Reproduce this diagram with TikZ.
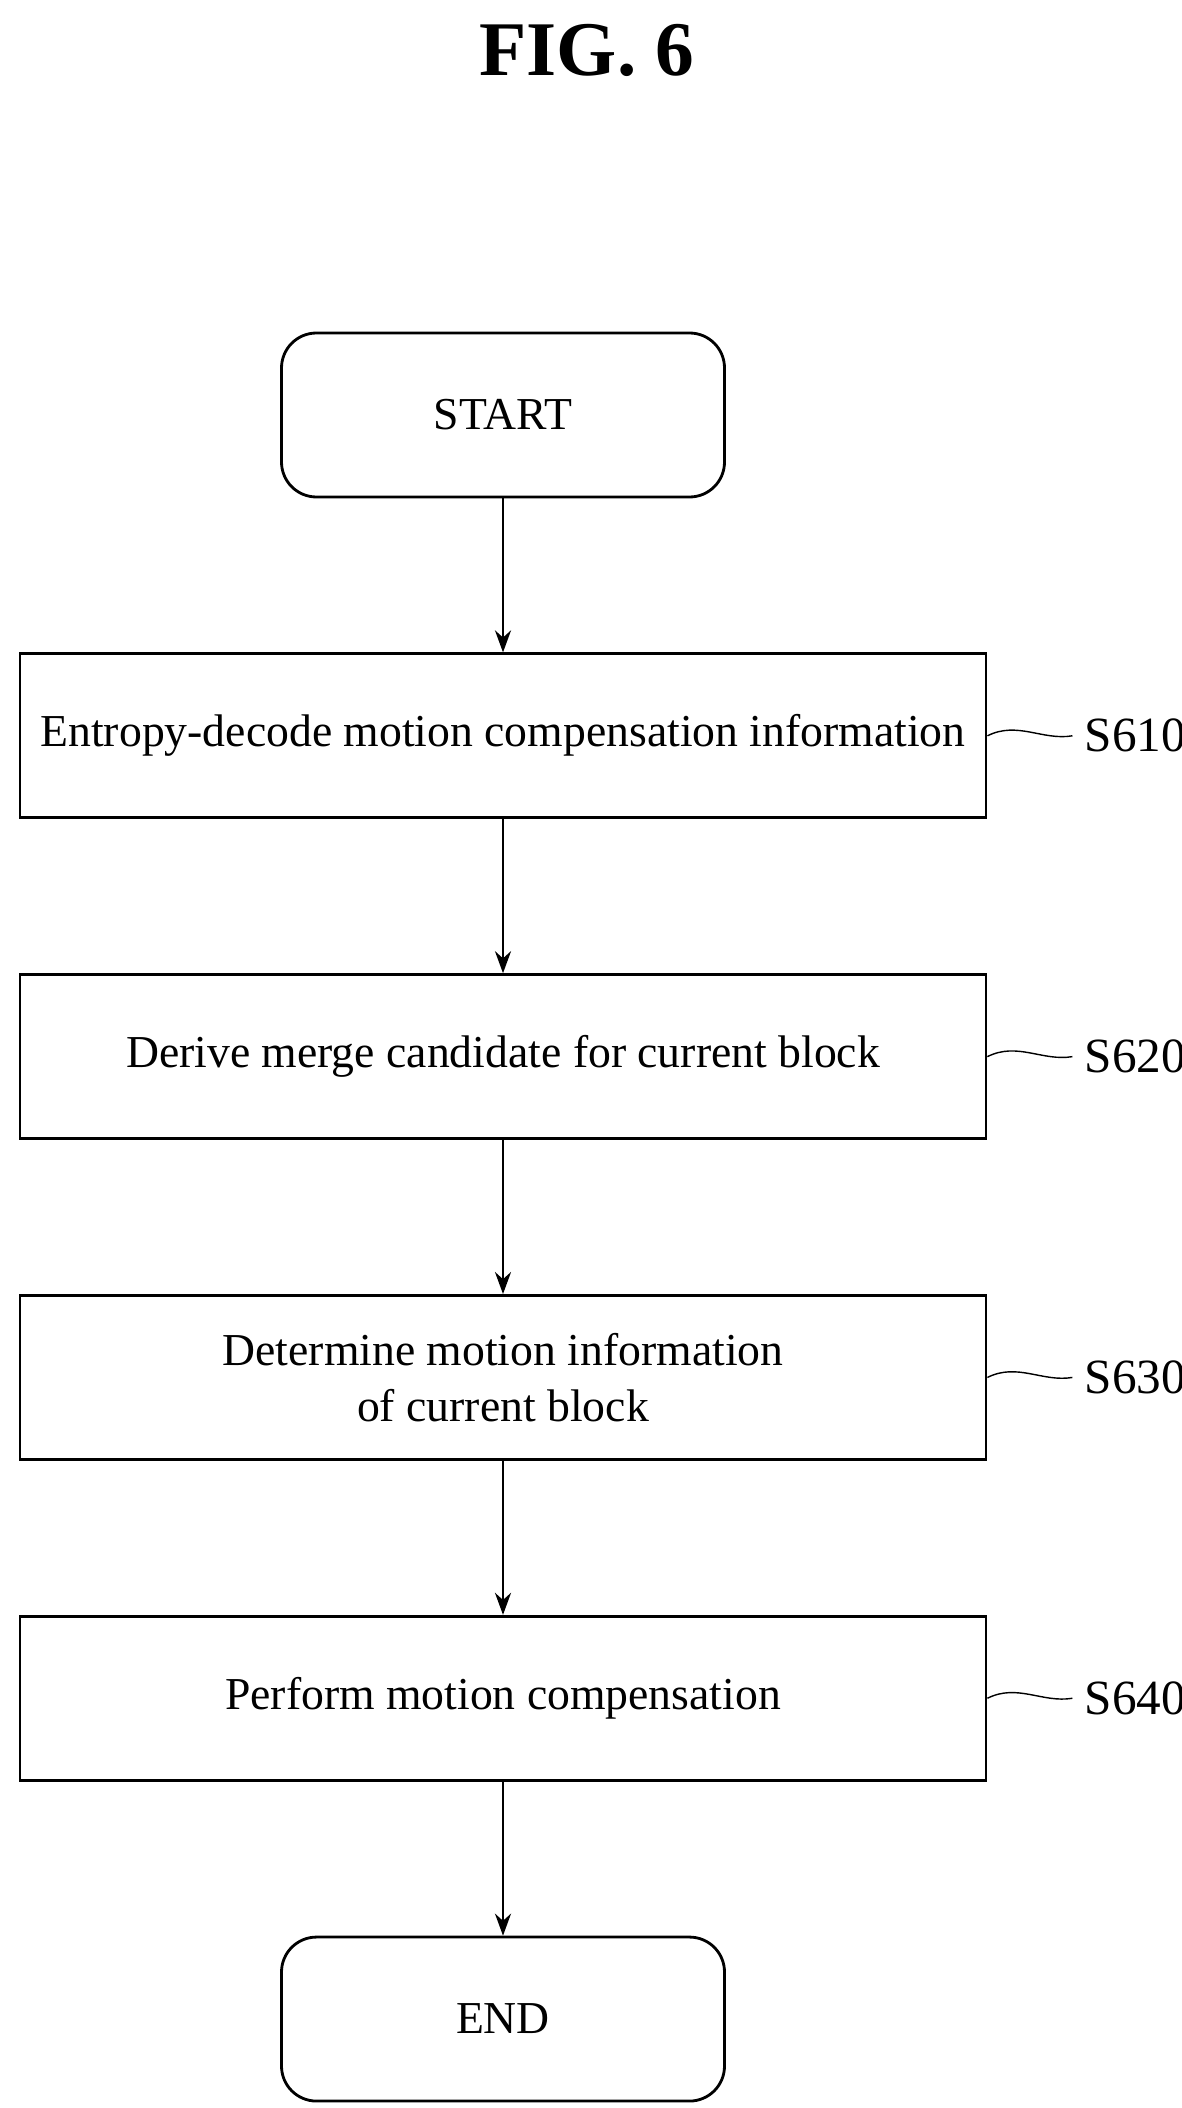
\documentclass[tikz,border=0pt]{standalone}
\usepackage{fontspec}
\setmainfont{Liberation Serif}
\usetikzlibrary{positioning,arrows.meta}

\begin{document}
\begin{tikzpicture}[
    term/.style={rectangle,rounded corners=0.35cm,draw,thick,minimum width=4.43cm,minimum height=1.64cm,font=\fontsize{13}{15}\selectfont},
    proc/.style={rectangle,draw,thick,minimum width=9.66cm,minimum height=1.64cm,align=center,font=\fontsize{13}{16}\selectfont},
    lbl/.style={font=\fontsize{14}{16}\selectfont,anchor=west},
    flow/.style={-{Stealth[length=0.22cm,width=0.16cm]},thick},
    node distance=1.54cm
]
    \useasboundingbox (0,0) rectangle (11.81,-21.08);
    \node[font=\bfseries\fontsize{22}{24}\selectfont] (title) at (5.87,-0.5) {FIG. 6};
    \node[term] (start) at (5.03,-4.15) {START};
    \node[proc,below=of start] (s1) {Entropy-decode motion compensation information};
    \node[proc,below=of s1] (s2) {Derive merge candidate for current block};
    \node[proc,below=of s2] (s3) {Determine motion information\\of current block};
    \node[proc,below=of s3] (s4) {Perform motion compensation};
    \node[term,below=of s4] (stop) {END};
    % step labels
    \foreach \i/\t in {1/S610,2/S620,3/S630,4/S640}{
        \node[lbl] (l\i) at ([xshift=0.85cm]s\i.east) {\t};
        \draw (s\i.east) .. controls +(0.3,0.15) and +(-0.3,-0.05) .. (l\i.west);
    }
    \draw[flow] (start) -- (s1);
    \draw[flow] (s1) -- (s2);
    \draw[flow] (s2) -- (s3);
    \draw[flow] (s3) -- (s4);
    \draw[flow] (s4) -- (stop);
\end{tikzpicture}
\end{document}
